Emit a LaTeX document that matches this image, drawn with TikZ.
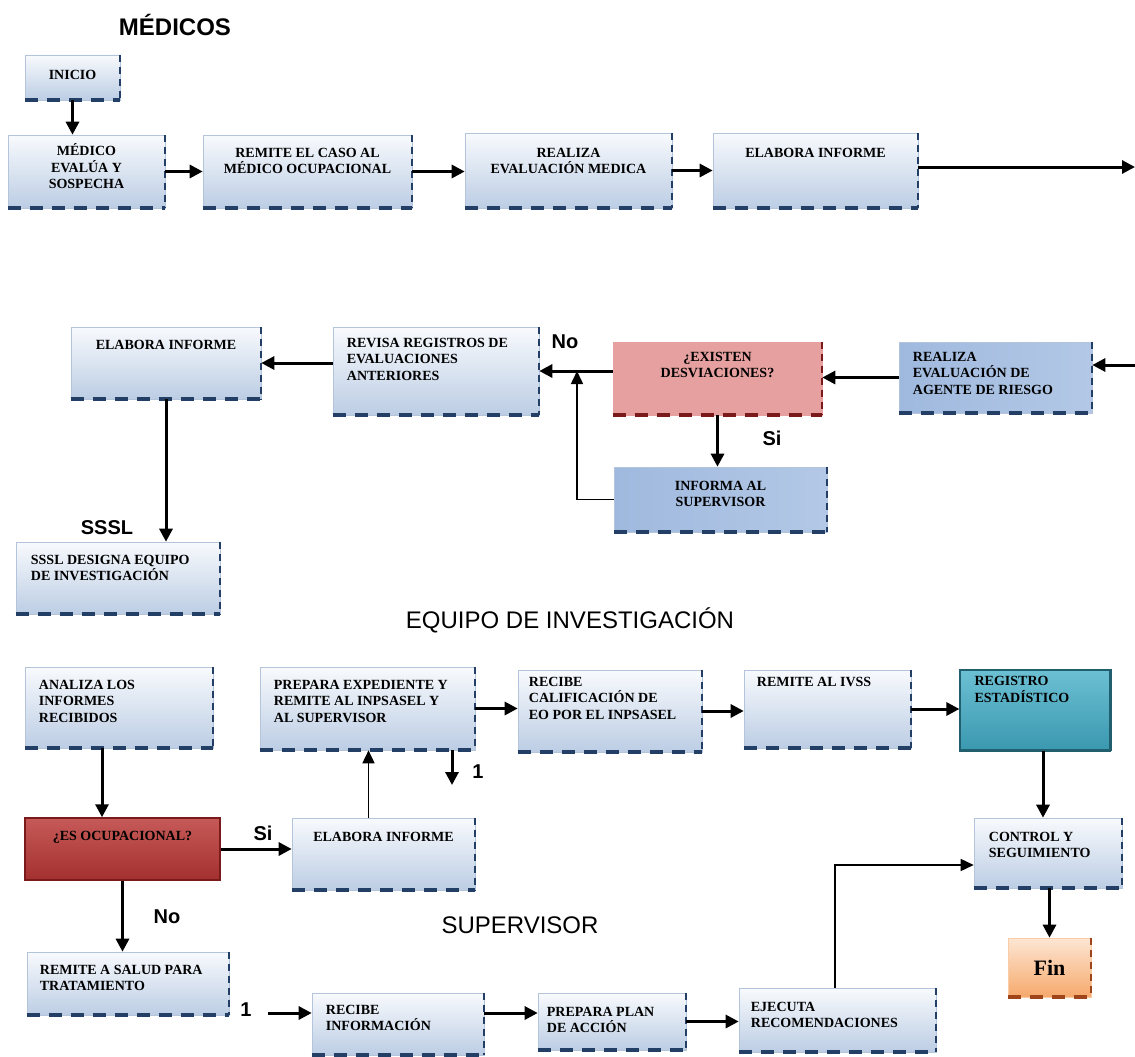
\documentclass[tikz,border=0pt]{standalone}
\usepackage{fontspec}
\setmainfont{Liberation Serif}
\newfontfamily\titfont{Liberation Sans}
\usetikzlibrary{arrows.meta, positioning, fit}

\definecolor{cajaarriba}{HTML}{F8FAFD}
\definecolor{cajaabajo}{HTML}{BCCDE4}
\definecolor{bordecaja}{HTML}{B4C4DA}
\definecolor{azulosc}{HTML}{243F66}
\definecolor{azulizq}{HTML}{9FB9DE}
\definecolor{azulmed}{HTML}{E4ECF6}
\definecolor{azulder}{HTML}{B3C8E6}
\definecolor{rosaborde}{HTML}{E6A0A0}
\definecolor{rosacentro}{HTML}{F7D9D9}
\definecolor{rojoosc}{HTML}{7A1A1A}
\definecolor{rojoarriba}{HTML}{C65A58}
\definecolor{rojomedio}{HTML}{D9817F}
\definecolor{rojoabajo}{HTML}{A3302E}
\definecolor{tealarriba}{HTML}{6CC0D3}
\definecolor{tealabajo}{HTML}{3A98B0}
\definecolor{tealosc}{HTML}{215E6E}
\definecolor{naranjaarriba}{HTML}{FDE6D3}
\definecolor{naranjaabajo}{HTML}{F6A96C}
\definecolor{naranjaosc}{HTML}{A0441A}

\begin{document}
\begin{tikzpicture}[
    x=1pt, y=-1pt,
    marco/.style={inner sep=0pt, append after command={
        (\tikzlastnode.south west) edge[line width=4pt, dash pattern=on 13pt off 9pt, #1] (\tikzlastnode.south east)
        (\tikzlastnode.north east) edge[line width=2pt, dash pattern=on 7pt off 5pt, #1] (\tikzlastnode.south east)}},
    caja/.style={marco=azulosc, draw=bordecaja, line width=0.6pt, top color=cajaarriba, bottom color=cajaabajo},
    cajaazul/.style={marco=azulosc, draw=bordecaja, line width=0.6pt, left color=azulizq, middle color=azulmed, right color=azulder},
    cajarosa/.style={marco=rojoosc, draw=rosaborde, line width=0.6pt, top color=rosaborde, middle color=rosacentro, bottom color=rosaborde},
    cajaroja/.style={inner sep=0pt, draw=rojoosc, line width=1.5pt, top color=rojoarriba, middle color=rojomedio, bottom color=rojoabajo},
    cajateal/.style={inner sep=0pt, draw=tealosc, line width=1.2pt, top color=tealarriba, bottom color=tealabajo, append after command={
        (\tikzlastnode.south west) edge[line width=3pt, tealosc] (\tikzlastnode.south east)
        (\tikzlastnode.north east) edge[line width=3pt, tealosc] (\tikzlastnode.south east)}},
    cajafin/.style={marco=naranjaosc, draw=naranjaabajo!60, line width=0.6pt, top color=naranjaarriba, bottom color=naranjaabajo},
    texto/.style={inner sep=0pt, align=center, font=\fontsize{14}{16.5}\selectfont\bfseries},
    textoizq/.style={texto, align=left},
    titulo/.style={font=\titfont\fontsize{24}{28}\selectfont},
    etiq/.style={font=\titfont\bfseries\fontsize{20}{24}\selectfont},
    flecha/.style={-{Triangle[length=13pt,width=13pt]}, line width=3pt},
    flechafina/.style={-{Triangle[length=13pt,width=12pt]}, line width=1.6pt}
]
\path[use as bounding box, fill=white] (0,0) rectangle (1135,1057);

% Titulos
\node[titulo, font=\titfont\bfseries\fontsize{24}{28}\selectfont] (tmedicos) at (175,25) {MÉDICOS};
\node[titulo] (tequipo) at (570,620) {EQUIPO DE INVESTIGACIÓN};
\node[titulo] (tsuper) at (520,925) {SUPERVISOR};

% Medicos
\node[caja, fit={(25,55) (120,100)}] (inicio) {};
\node[caja, fit={(8,135) (165,208)}] (medico) {};
\node[caja, fit={(203,135) (412,208)}] (remite) {};
\node[caja, fit={(465,133) (672,208)}] (realiza) {};
\node[caja, fit={(713,133) (918,208)}] (elabora1) {};
\node[texto, below=15pt of inicio.north] (tinicio) {INICIO};
\node[texto, below=9pt of medico.north] (tmedico) {MÉDICO\\EVALÚA Y\\SOSPECHA};
\node[texto, below=13pt of remite.north] (tremite) {REMITE EL CASO AL\\MÉDICO OCUPACIONAL};
\node[texto, below=15pt of realiza.north] (trealiza) {REALIZA\\EVALUACIÓN MEDICA};
\node[texto, below=15pt of elabora1.north] (telabora1) {ELABORA INFORME};

% Segunda fila
\node[caja, fit={(71,327) (261,399)}] (elabora2) {};
\node[caja, fit={(333,327) (539,415)}] (revisa) {};
\node[cajarosa, fit={(613,342) (822,415)}] (existen) {};
\node[cajaazul, fit={(899,342) (1092,413)}] (realiza2) {};
\node[cajaazul, fit={(614,467) (827,532)}] (informa) {};
\node[caja, fit={(16,542) (220,614)}] (sssl) {};
\node[texto, below=13pt of elabora2.north] (telabora2) {ELABORA INFORME};
\node[textoizq, below right=11pt and 14pt of revisa.north west] (trevisa) {REVISA REGISTROS DE\\EVALUACIONES\\ANTERIORES};
\node[texto, below=10pt of existen.north] (texisten) {¿EXISTEN\\DESVIACIONES?};
\node[textoizq, below right=10pt and 14pt of realiza2.north west] (trealiza2) {REALIZA\\EVALUACIÓN DE\\AGENTE DE RIESGO};
\node[texto, below=14pt of informa.north] (tinforma) {INFORMA AL\\SUPERVISOR};
\node[textoizq, below right=13pt and 15pt of sssl.north west] (tsssl) {SSSL DESIGNA EQUIPO\\DE INVESTIGACIÓN};

% Equipo de investigacion
\node[caja, fit={(25,667) (213,748)}] (analiza) {};
\node[caja, fit={(260,667) (475,750)}] (preparaexp) {};
\node[caja, fit={(518,670) (702,752)}] (recibecal) {};
\node[caja, fit={(744,670) (911,748)}] (ivss) {};
\node[cajateal, fit={(960,670) (1110,750)}] (registro) {};
\node[cajaroja, fit={(25,818) (220,880)}] (esocup) {};
\node[caja, fit={(292,818) (475,890)}] (elabora3) {};
\node[caja, fit={(974,818) (1122,888)}] (control) {};
\node[cajafin, fit={(1008,938) (1091,997)}] (fin) {};
\node[textoizq, below right=13pt and 14pt of analiza.north west] (tanaliza) {ANALIZA LOS\\INFORMES\\RECIBIDOS};
\node[textoizq, below right=13pt and 14pt of preparaexp.north west] (tpreparaexp) {PREPARA EXPEDIENTE Y\\REMITE AL INPSASEL Y\\AL SUPERVISOR};
\node[textoizq, below right=7pt and 11pt of recibecal.north west] (trecibecal) {RECIBE\\CALIFICACIÓN DE\\EO POR EL INPSASEL};
\node[textoizq, below right=7pt and 13pt of ivss.north west] (tivss) {REMITE AL IVSS};
\node[textoizq, below right=7pt and 15pt of registro.north west] (tregistro) {REGISTRO\\ESTADÍSTICO};
\node[texto, below=14pt of esocup.north] (tesocup) {¿ES OCUPACIONAL?};
\node[texto, below=14pt of elabora3.north] (telabora3) {ELABORA INFORME};
\node[textoizq, below right=14pt and 15pt of control.north west] (tcontrol) {CONTROL Y\\SEGUIMIENTO};
\node[font=\fontsize{22}{26}\selectfont\bfseries] (tfin) at (fin) {Fin};

% Supervisor
\node[caja, fit={(27,952) (229,1015)}] (remitesalud) {};
\node[caja, fit={(312,993) (484,1055)}] (recibeinfo) {};
\node[caja, fit={(538,993) (686,1050)}] (preparaplan) {};
\node[caja, fit={(739,988) (936,1052)}] (ejecuta) {};
\node[textoizq, below right=13pt and 13pt of remitesalud.north west] (tremitesalud) {REMITE A SALUD PARA\\TRATAMIENTO};
\node[textoizq, below right=12pt and 14pt of recibeinfo.north west] (trecibeinfo) {RECIBE\\INFORMACIÓN};
\node[textoizq, below right=14pt and 9pt of preparaplan.north west] (tpreparaplan) {PREPARA PLAN\\DE ACCIÓN};
\node[textoizq, below right=14pt and 12pt of ejecuta.north west] (tejecuta) {EJECUTA\\RECOMENDACIONES};

% Etiquetas
\node[etiq] (no1) at (565,342) {No};
\node[etiq] (si1) at (772,438) {Si};
\node[etiq] (lsssl) at (107,528) {SSSL};
\node[etiq] (si2) at (263,833) {Si};
\node[etiq] (uno1) at (478,772) {1};
\node[etiq] (no2) at (167,917) {No};
\node[etiq] (uno2) at (246,1010) {1};

% Conectores
\coordinate (salida) at (1135,167);
\coordinate (entrada) at (1135,365);
\coordinate (union) at (577,371);
\coordinate (baja) at (452,785);
\coordinate (llega) at (268,1013);
\draw[flecha] (inicio.south) -- (inicio.south |- medico.north);
\draw[flecha] (medico) -- (remite);
\draw[flecha] (remite.east) -- (remite.east -| realiza.west);
\draw[flecha] (realiza) -- (elabora1);
\draw[flecha] (elabora1.east |- salida) -- (salida);
\draw[flecha] (entrada) -- (entrada -| realiza2.east);
\draw[flecha] (realiza2.west) -- (realiza2.west -| existen.east);
\draw[flecha] (existen.west |- revisa.east) -- (revisa.east);
\draw[flecha] (existen.south) -- (existen.south |- informa.north);
\draw[flechafina] (informa.west) -| (union);
\draw[flecha] (revisa.west |- elabora2.east) -- (elabora2.east);
\draw[flecha] (elabora2.south) -- (elabora2.south |- sssl.north);
\draw[flecha] ([xshift=-17pt]analiza.south) -- ([xshift=-17pt]analiza.south |- esocup.north);
\draw[flecha] (esocup.east) -- (esocup.east -| elabora3.west);
\draw[flechafina] ([xshift=-15pt]elabora3.north) -- ([xshift=-15pt]elabora3.north |- preparaexp.south);
\draw[flecha] (preparaexp.south -| baja) -- (baja);
\draw[flecha] (preparaexp.east) -- (preparaexp.east -| recibecal.west);
\draw[flecha] (recibecal.east) -- (recibecal.east -| ivss.west);
\draw[flecha] (ivss.east) -- (ivss.east -| registro.west);
\draw[flecha] ([xshift=8pt]registro.south) -- ([xshift=8pt]registro.south |- control.north);
\draw[flecha] (control.south -| fin.north) -- (fin.north);
\draw[flecha] (esocup.south) -- (esocup.south |- remitesalud.north);
\draw[flecha] (llega) -- (llega -| recibeinfo.west);
\draw[flecha] (recibeinfo.east |- llega) -- (llega -| preparaplan.west);
\draw[flecha] (preparaplan.east) -- (preparaplan.east -| ejecuta.west);
\draw[flechafina] ([xshift=-2.5pt]ejecuta.north) |- ([yshift=-12pt]control.west);
\end{tikzpicture}
\end{document}
